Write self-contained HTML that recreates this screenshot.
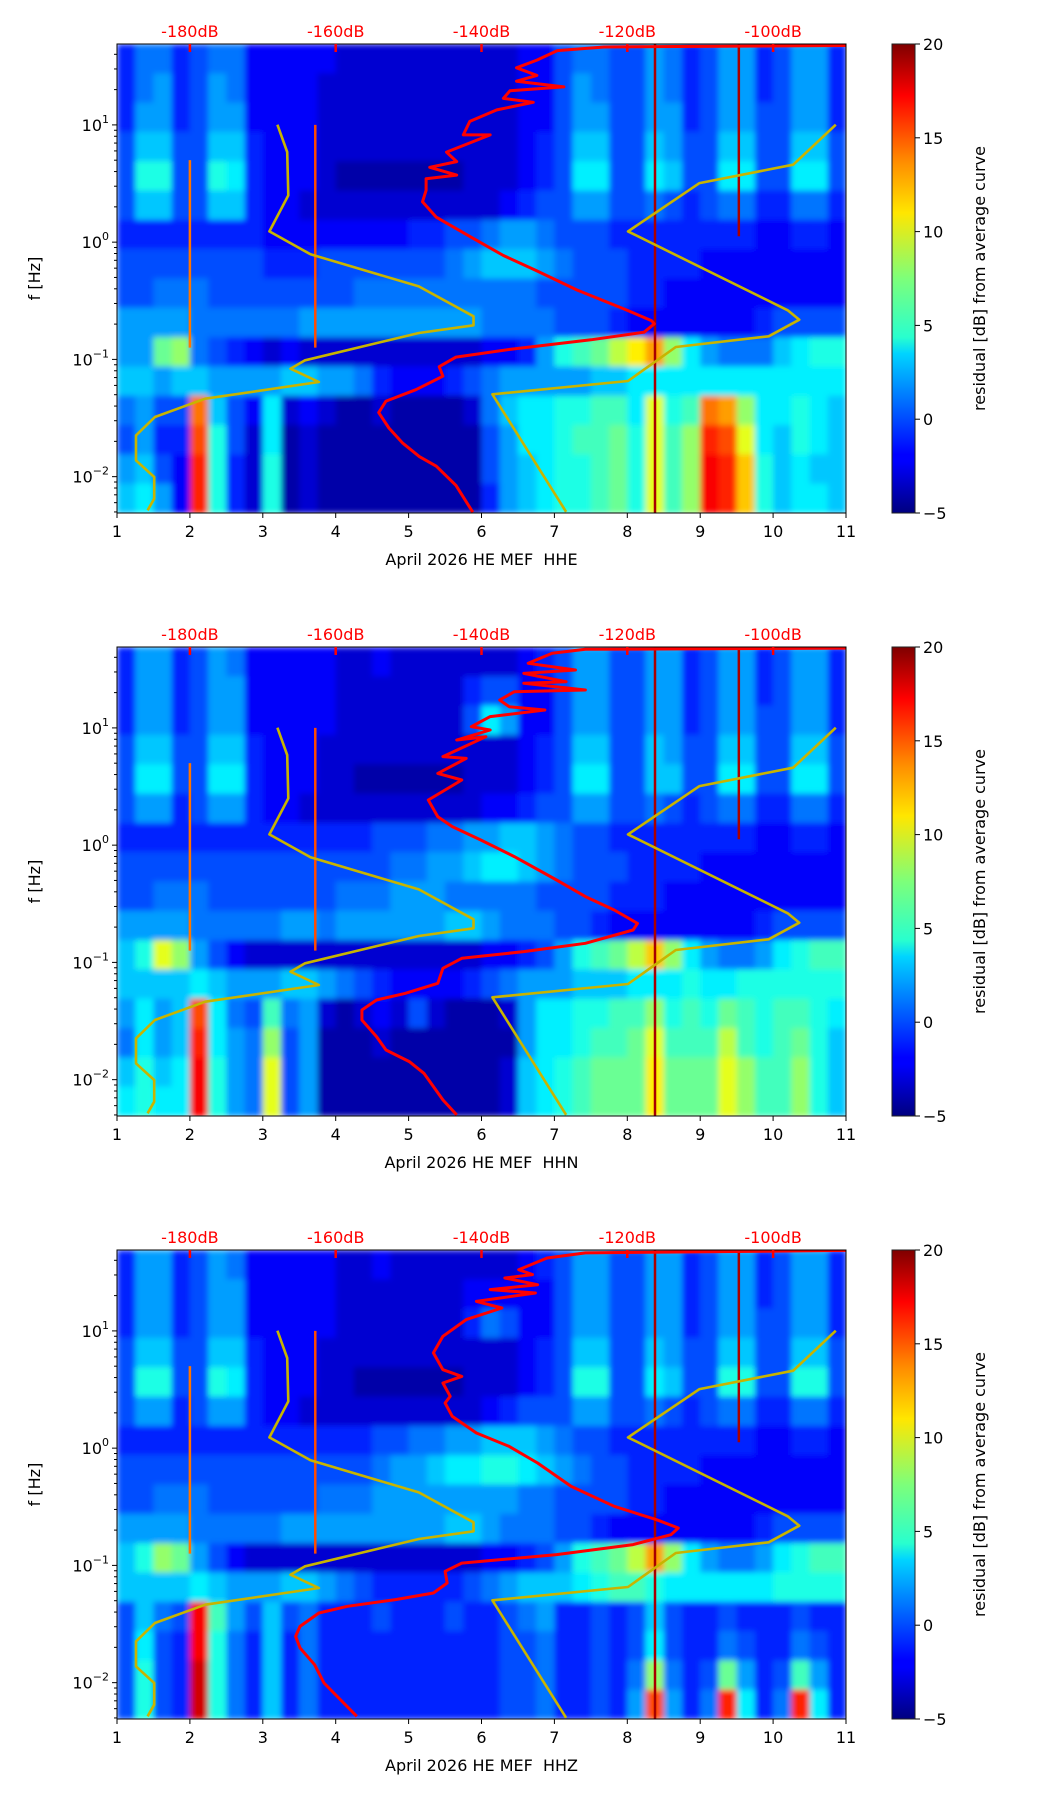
<!DOCTYPE html>
<html><head><meta charset="utf-8"><style>
html,body{margin:0;padding:0;background:#fff;}
svg{display:block;font-family:"DejaVu Sans","Liberation Sans",sans-serif;}
text{white-space:pre;}
</style></head><body>
<svg id="fig" width="1052" height="1806" viewBox="0 0 1052 1806" xmlns="http://www.w3.org/2000/svg">
<defs>
<filter id="blur" x="0" y="0" width="1" height="1"><feGaussianBlur stdDeviation="3 3" edgeMode="duplicate"/></filter>
<linearGradient id="jet" x1="0" y1="1" x2="0" y2="0">
<stop offset="0" stop-color="#00007f"/><stop offset="0.11" stop-color="#0000ff"/><stop offset="0.125" stop-color="#0000ff"/>
<stop offset="0.34" stop-color="#00d4ff"/><stop offset="0.375" stop-color="#29ffce"/><stop offset="0.5" stop-color="#7dff7a"/>
<stop offset="0.64" stop-color="#ffe600"/><stop offset="0.75" stop-color="#ff8c00"/><stop offset="0.89" stop-color="#ff0000"/>
<stop offset="1" stop-color="#7f0000"/></linearGradient>
</defs>
</svg>
<script>
// ---- shared axis data ----
const dayTicks = [1,2,3,4,5,6,7,8,9,10,11];
const dbTicks = [-180,-160,-140,-120,-100];
const decadeTicks = [1,0,-1,-2];
const cbarTicks = [-5,0,5,10,15,20];
const channels = ["HHE","HHN","HHZ"];
// Peterson noise models (dB, log10 f)
const nlnmDb = [-168.0,-166.65,-166.5,-169.1,-163.45,-148.6,-141.1,-141.1,-148.6,-164.2,-166.2,-162.3,-177.9,-184.8,-187.4,-187.4,-184.9,-184.9,-185.8];
const nlnmF = [1.002,0.769,0.399,0.092,-0.104,-0.377,-0.632,-0.709,-0.775,-1.008,-1.079,-1.193,-1.335,-1.491,-1.648,-1.861,-2.003,-2.188,-2.287];
const nhnmDb = [-91.4,-97.24,-110.1,-119.9,-98.0,-96.4,-100.6,-113.35,-119.9,-138.5,-128.4];
const nhnmF = [1.002,0.661,0.504,0.092,-0.581,-0.661,-0.803,-0.894,-1.184,-1.298,-2.30];
// average curves
const avgDbE = [-90,-123.2,-129.6,-132.4,-135.2,-132.4,-135.2,-128.7,-136.1,-137.0,-132.9,-137.9,-141.6,-142.5,-138.8,-144.8,-143.4,-147.1,-143.4,-147.6,-147.6,-148.1,-146.2,-141.6,-137.0,-132.4,-126.9,-120.4,-116.7,-116.3,-117.7,-125.0,-136.1,-143.5,-145.8,-145.3,-149.0,-153.1,-154.1,-152.7,-150.8,-148.5,-146.2,-143.5,-141.2];
const avgFE = [1.677,1.664,1.634,1.553,1.487,1.422,1.373,1.324,1.291,1.226,1.193,1.128,1.030,0.915,0.915,0.768,0.687,0.638,0.572,0.540,0.442,0.344,0.213,0.049,-0.114,-0.245,-0.408,-0.571,-0.669,-0.696,-0.768,-0.833,-0.915,-0.980,-1.062,-1.143,-1.258,-1.356,-1.454,-1.585,-1.715,-1.830,-1.911,-2.075,-2.303];
const avgDbN = [-90.0,-125.75,-130.3,-133.6,-127.1,-134.2,-128.4,-134.2,-125.75,-135.5,-137.5,-136.2,-131.3,-138.8,-141.4,-138.8,-143.4,-139.4,-145.3,-142.1,-146.0,-142.7,-147.3,-146.0,-144.0,-140.1,-135.5,-129.7,-125.75,-121.8,-118.6,-119.2,-125.75,-134.2,-142.7,-145.3,-146.0,-150.5,-154.4,-156.4,-156.4,-154.4,-153.1,-149.9,-147.9,-145.3,-143.4];
const avgFN = [1.681,1.670,1.636,1.551,1.494,1.465,1.394,1.380,1.323,1.309,1.238,1.181,1.153,1.096,1.010,0.982,0.897,0.925,0.755,0.740,0.612,0.556,0.385,0.243,0.158,0.044,-0.098,-0.297,-0.439,-0.553,-0.667,-0.724,-0.837,-0.908,-0.965,-1.050,-1.178,-1.264,-1.321,-1.406,-1.491,-1.633,-1.747,-1.846,-1.946,-2.173,-2.301];
const avgDbZ = [-90.0,-125.75,-131.0,-134.9,-133.0,-136.8,-132.3,-138.8,-132.6,-140.7,-137.2,-142.1,-145.3,-146.6,-145.3,-142.7,-145.3,-144.3,-145.0,-144.0,-140.7,-136.2,-132.3,-127.7,-121.8,-116.0,-113.0,-114.0,-119.2,-129.7,-142.7,-145.0,-144.7,-146.6,-151.8,-158.4,-162.3,-164.9,-165.5,-164.9,-162.9,-161.6,-157.1];
const avgFZ = [1.687,1.665,1.622,1.522,1.480,1.451,1.394,1.352,1.323,1.252,1.195,1.096,0.954,0.812,0.669,0.612,0.556,0.442,0.385,0.271,0.129,0.015,-0.127,-0.326,-0.496,-0.610,-0.681,-0.738,-0.823,-0.908,-0.980,-1.050,-1.150,-1.235,-1.292,-1.349,-1.406,-1.520,-1.605,-1.704,-1.847,-2.003,-2.287];
// residual grids: 16 frequency rows (top->bottom, 0.25 decade) x 40 quarter-day columns
const heatE = [
[-1,1,1,-1,0,1,1,-2,-2,-2,-2,-2,-3,-3,-3,-3,-3,-3,-3,-3,-3,-3,-2,-2,0,1,1,0,0,2,1,-1,0,2,2,-1,0,2,2,-1],
[-1,1,2,-1,0,2,1,-2,-2,-2,-2,-3,-3,-3,-3,-3,-3,-3,-3,-3,-3,-3,-2,-2,0,2,1,0,0,2,1,-1,0,2,2,-1,0,2,2,-1],
[-1,2,2,-1,0,2,2,-2,-2,-2,-2,-3,-3,-3,-3,-3,-3,-3,-3,-3,-3,-3,-2,-2,0,2,2,0,0,2,2,-1,0,2,2,0,0,2,2,-1],
[0,3,3,0,0,3,3,-1,-2,-2,-2,-3,-3,-3,-3,-3,-3,-3,-3,-3,-3,-3,-2,-1,0,3,3,0,0,3,2,0,0,3,3,0,0,3,3,0],
[0,5,5,0,0,5,4,-1,-2,-2,-2,-3,-4,-4,-4,-4,-4,-4,-4,-3,-3,-3,-2,-1,0,4,4,0,0,4,3,0,0,4,4,0,0,4,4,0],
[0,3,3,0,0,3,3,-1,-2,-2,-3,-3,-3,-3,-3,-3,-3,-3,-3,-3,-3,-2,-1,0,0,2,2,0,0,1,0,-1,0,1,1,-1,-1,1,1,-1],
[-1,-1,-1,-1,-1,-1,-1,-1,-2,-2,-2,-2,-2,-2,-2,-2,-1,-1,0,0,1,2,2,1,0,0,0,-1,-1,-1,-1,-1,-1,-1,-1,-2,-2,-1,-1,-2],
[0,0,0,0,0,0,0,0,-1,-1,-1,0,0,0,0,0,0,0,1,2,3,3,3,2,1,0,0,0,-1,-1,-1,-1,-2,-2,-2,-2,-2,-2,-2,-2],
[0,0,1,1,1,0,0,0,0,0,0,0,0,1,1,1,1,1,1,1,1,1,1,0,0,0,0,0,-1,-1,-2,-2,-2,-2,-2,-2,-2,-2,-2,-2],
[2,2,2,2,1,1,1,1,1,1,2,2,2,2,2,2,2,2,2,2,1,1,1,1,0,0,0,-1,-2,-2,-2,-2,-2,-2,-2,-1,0,0,0,0],
[2,2,7,8,1,0,-1,-2,-3,-2,-3,-3,-3,-3,-3,-3,-3,-3,-3,-3,-2,-2,-1,2,5,6,7,9,11,13,8,4,2,1,1,1,3,4,5,5],
[3,3,2,3,3,2,2,2,2,3,3,2,2,1,-1,-2,-2,-2,-1,0,1,2,2,2,2,2,3,3,4,4,4,4,4,4,4,4,4,4,4,4],
[1,2,0,0,14,3,0,-2,4,-3,-2,-3,-4,-4,-3,-4,-4,-4,-4,-3,1,3,4,4,5,5,6,6,4,10,5,6,14,13,8,4,4,5,4,3],
[0,2,-1,-1,15,5,0,-3,4,-4,-3,-4,-4,-4,-4,-4,-4,-4,-4,-4,0,2,4,4,5,6,6,7,5,10,6,8,16,15,10,4,3,5,4,3],
[2,3,0,-2,16,5,-1,-3,5,-4,-3,-4,-4,-4,-4,-4,-4,-4,-4,-4,0,2,3,4,5,5,6,7,5,10,6,8,17,16,12,5,3,4,3,3],
[3,4,2,-2,16,5,-1,-3,5,-4,-3,-4,-4,-4,-4,-4,-4,-4,-4,-4,-1,2,3,4,5,5,6,7,5,10,6,8,17,16,12,5,3,4,4,3]];
const heatN = [
[-1,2,2,-1,0,2,1,-2,-2,-2,-2,-2,-3,-3,-2,-3,-3,-3,-3,-3,-3,-3,-2,-1,0,2,2,0,0,2,2,-1,0,2,2,-1,0,2,2,-1],
[-1,2,2,-1,0,2,2,-2,-2,-2,-2,-2,-3,-3,-3,-3,-3,-3,-3,-1,0,0,-2,-2,0,2,2,0,0,2,2,-1,0,2,2,-1,0,2,2,-1],
[-1,2,2,-1,0,2,2,-2,-2,-2,-2,-2,-3,-3,-3,-3,-3,-3,-3,0,4,2,-2,-2,0,2,2,0,0,2,2,-1,0,2,2,0,0,2,2,-1],
[0,3,3,0,0,3,3,-1,-2,-2,-2,-3,-3,-3,-3,-3,-3,-3,-3,-3,-3,-3,-2,-1,0,3,3,0,0,3,2,0,0,3,3,0,0,3,3,0],
[0,4,4,0,0,4,4,-1,-2,-2,-2,-3,-3,-4,-4,-4,-4,-4,-4,-3,-3,-3,-2,-1,0,4,4,0,0,3,3,0,0,4,4,0,0,4,4,0],
[0,2,2,-1,0,2,2,-1,-2,-2,-3,-3,-3,-3,-3,-3,-3,-3,-3,-3,-2,-2,-1,0,0,2,2,0,0,1,0,-1,0,1,1,-1,-1,1,1,-1],
[-1,-1,-1,-1,-1,-1,-1,-1,-1,-1,-1,-1,-1,-1,0,0,0,1,1,2,2,3,3,2,1,0,0,-1,-1,-1,-1,-1,-1,-1,-1,-2,-2,-1,-1,-2],
[0,0,0,0,0,0,0,0,0,0,0,0,0,0,0,1,1,2,2,3,4,4,3,2,1,0,0,0,-1,-1,-1,-1,-2,-2,-2,-2,-2,-2,-2,-2],
[0,0,1,1,1,0,0,0,0,0,0,0,1,1,1,2,2,2,1,1,1,1,1,0,0,0,0,-1,-1,-1,-2,-2,-2,-2,-2,-2,-2,-2,-2,-2],
[2,2,2,2,1,1,1,1,1,2,2,1,2,2,2,2,2,2,3,3,2,1,1,1,0,0,-1,-2,-2,-2,-2,-2,-2,-2,-2,-1,0,0,0,0],
[3,5,10,8,2,0,-2,-3,-3,-3,-3,-3,-3,-3,-3,-3,-3,-3,-3,-3,-2,-2,-1,0,2,5,6,7,9,12,8,4,2,1,1,2,4,5,6,6],
[3,3,3,3,4,3,2,2,2,3,3,2,1,0,-1,-2,-2,-2,-2,-1,0,1,2,2,2,3,3,3,4,4,4,5,4,4,5,5,5,5,5,5],
[2,4,2,3,15,4,1,0,6,1,2,-3,-4,-3,-2,-3,0,-3,-4,-4,-4,-3,2,4,4,5,5,6,6,8,5,6,5,7,6,5,6,6,5,4],
[1,4,2,3,16,4,2,1,8,0,2,-4,-4,-4,-3,-4,-4,-4,-4,-4,-4,-4,2,4,4,5,6,6,7,10,6,6,6,9,6,5,6,7,5,3],
[3,5,3,4,17,5,2,1,10,0,2,-4,-4,-4,-4,-4,-4,-4,-4,-4,-4,-3,3,4,5,6,7,7,7,11,7,7,7,10,8,6,6,8,5,3],
[4,5,4,4,17,5,2,1,10,0,2,-4,-4,-4,-4,-4,-4,-4,-4,-4,-4,-3,3,4,5,6,7,7,7,11,7,7,7,10,8,6,6,8,5,3]];
const heatZ = [
[-1,2,2,-1,0,2,1,-2,-2,-2,-2,-2,-3,-3,-2,-3,-3,-3,-3,-3,-3,-3,-2,-1,0,2,2,0,0,2,2,-1,0,2,2,-1,0,2,2,-1],
[-1,2,2,-1,0,2,2,-2,-2,-2,-2,-2,-3,-3,-3,-3,-3,-3,-3,-2,-2,-2,-2,-2,0,2,2,0,0,2,2,-1,0,2,2,-1,0,2,2,-1],
[-1,2,2,-1,0,2,2,-2,-2,-2,-2,-2,-3,-3,-3,-3,-3,-3,-3,-1,1,0,-2,-2,0,2,2,0,0,2,2,-1,0,2,2,0,0,2,2,-1],
[0,3,3,0,0,3,3,-1,-2,-2,-2,-3,-3,-3,-3,-3,-3,-3,-3,-3,-3,-3,-2,-1,0,3,3,0,0,3,2,0,0,3,3,0,0,3,3,0],
[0,5,5,0,0,5,4,-1,-2,-2,-2,-3,-3,-4,-4,-4,-4,-4,-4,-3,-3,-3,-2,-1,0,5,5,0,0,4,3,0,0,5,5,0,0,5,5,0],
[0,2,2,-1,0,2,2,-1,-2,-2,-3,-3,-3,-3,-3,-3,-3,-3,-3,-3,-2,-1,0,0,0,2,2,0,0,1,0,-1,0,1,1,-1,-1,1,1,-1],
[-1,-1,-1,-1,-1,-1,-1,-1,-1,-1,-1,-1,-1,-1,0,0,1,1,2,2,3,3,3,2,1,0,0,-1,-1,-1,-1,-1,-1,-1,-1,-2,-2,-1,-1,-2],
[0,0,0,0,0,0,0,0,0,0,0,0,0,0,1,2,2,3,4,4,5,5,4,3,2,1,0,0,-1,-1,-1,-1,-2,-2,-2,-2,-2,-2,-2,-2],
[0,0,1,1,1,0,0,0,0,0,0,1,1,1,2,2,2,2,2,2,2,2,1,1,0,0,0,0,-1,-1,-2,-2,-2,-2,-2,-2,-2,-2,-2,-2],
[2,2,2,2,1,1,1,1,1,2,2,2,2,2,2,2,2,2,3,3,2,1,1,1,0,0,-1,-2,-2,-2,-2,-2,-2,-2,-2,-1,0,0,0,0],
[3,5,8,7,2,0,-2,-3,-3,-3,-3,-3,-3,-3,-3,-3,-3,-3,-3,-3,-2,-2,-1,0,2,5,6,7,9,13,8,4,2,1,1,2,4,5,6,6],
[3,3,3,3,4,3,2,2,2,3,3,2,1,0,-1,-1,-1,-1,-1,0,1,2,3,3,3,4,5,6,6,5,4,4,4,4,4,4,5,5,5,5],
[0,3,1,0,17,6,2,0,3,0,1,-1,-1,-1,0,-1,-1,-1,0,-1,-1,0,1,2,-1,-1,0,-1,0,3,0,-1,-1,0,-1,-1,-1,0,-1,-1],
[0,4,0,-1,17,5,1,-1,3,-1,1,-1,-1,-1,-1,-1,-1,-1,-1,-1,-1,0,0,1,-1,-1,0,-1,0,4,0,-1,-1,1,0,-1,-1,1,0,-1],
[0,5,0,-1,18,5,1,-1,3,-1,1,-1,-1,-1,-1,-1,-1,-1,-1,-1,-1,0,0,1,-1,-1,0,-1,1,8,1,-1,0,7,2,-1,0,6,2,-1],
[0,5,0,-1,18,5,1,-1,3,-1,1,-1,-1,-1,-1,-1,-1,-1,-1,-1,-1,0,0,1,-1,-1,0,-1,2,15,2,-1,1,16,4,-1,1,16,4,-1]];
// narrow persistent spectral lines (day, top log f, bottom log f, residual)
const lineDays = [2.0, 3.72, 8.38, 9.53];
const lineTopF = [0.7, 1.0, 1.69, 1.69];
const lineBotF = [-0.9, -0.9, -2.31, 0.05];
const lineVals = [14, 15, 19, 19];

const NS = "http://www.w3.org/2000/svg";
const svg = document.getElementById("fig");
const X0 = 117, X1 = 846, PH = 469, FTOP = 1.69, FBOT = -2.31;
const tops = [44, 647, 1250];
const heats = [heatE, heatN, heatZ];
const avgDbs = [avgDbE, avgDbN, avgDbZ];
const avgFs = [avgFE, avgFN, avgFZ];
function xDay(d){ return X0 + (d-1)/10*(X1-X0); }
function xDb(db){ return xDay((db+200)/10); }
function yF(lf, top){ return top + (FTOP-lf)/(FTOP-FBOT)*PH; }
function yC(v, top){ return top + (20-v)/25*PH; }
function jet(v){ let t=Math.max(0,Math.min(1,(v+5)/25));
  const c=(a)=>Math.round(255*Math.max(0,Math.min(1,1.5-Math.abs(4*t-a))));
  return `rgb(${c(3)},${c(2)},${c(1)})`; }
function mk(tag, attrs, parent){ const e=document.createElementNS(NS,tag); for(const k in attrs) e.setAttribute(k,attrs[k]); (parent||svg).appendChild(e); return e; }

tops.forEach((top, p) => {
  const g = mk("g", {});
  
  
  const clipId = "clip"+p;
  const cp = mk("clipPath", {id: clipId}, g); mk("rect", {x:X0,y:top,width:X1-X0,height:PH}, cp);
  const hg = mk("g", {filter:"url(#blur)"}, g);
  
  
  const grid = heats[p];
  const nr = grid.length, nc = grid[0].length;
  for (let r=0;r<nr;r++) for (let c=0;c<nc;c++){
    const d0 = 1 + c*10/nc, d1 = 1 + (c+1)*10/nc;
    const f0 = FTOP - r*(FTOP-FBOT)/nr, f1 = FTOP - (r+1)*(FTOP-FBOT)/nr;
    const rc = mk("rect", {x:xDay(d0), y:yF(f0,top), width:xDay(d1)-xDay(d0)+0.5, height:yF(f1,top)-yF(f0,top)+0.5, fill:jet(grid[r][c])}, hg);
    
    
  }
  const lg = mk("g", {"clip-path":`url(#${clipId})`}, g);
  lineDays.forEach((d,i)=>{
    const ln = mk("line", {x1:xDay(d), x2:xDay(d), y1:yF(lineTopF[i],top), y2:yF(lineBotF[i],top), stroke:jet(lineVals[i]), "stroke-width":2.5}, lg);
    
    
  });
  [[nlnmDb,nlnmF,"nlnm-curve"],[nhnmDb,nhnmF,"nhnm-curve"]].forEach(([dbs,fs,nm])=>{
    const pts = dbs.map((v,i)=>xDb(v).toFixed(1)+","+yF(fs[i],top).toFixed(1)).join(" ");
    const pl = mk("polyline", {points:pts, fill:"none", stroke:"#c8b400", "stroke-width":2.6, "stroke-linejoin":"round"}, lg);
    
    
  });
  const apts = avgDbs[p].map((v,i)=>xDb(v).toFixed(1)+","+yF(avgFs[p][i],top).toFixed(1)).join(" ");
  const ap = mk("polyline", {points:apts, fill:"none", stroke:"#ff0000", "stroke-width":3, "stroke-linejoin":"round"}, lg);
  
  
  const fr = mk("rect", {x:X0,y:top,width:X1-X0,height:PH,fill:"none",stroke:"#000","stroke-width":1}, g);
  
  
  dayTicks.forEach(d=>{
    mk("line",{x1:xDay(d),x2:xDay(d),y1:top+PH,y2:top+PH+5,stroke:"#000","stroke-width":1},g);
    const t = mk("text",{x:xDay(d),y:top+PH+24,"text-anchor":"middle","font-size":16},g);
    t.textContent = d;
    
    
  });
  const xl = mk("text",{x:(X0+X1)/2,y:top+PH+52,"text-anchor":"middle","font-size":16},g);
  xl.textContent = "April 2026 HE MEF  " + channels[p];
  
  
  dbTicks.forEach(db=>{
    mk("line",{x1:xDb(db),x2:xDb(db),y1:top,y2:top+8,stroke:"#ff0000","stroke-width":2.5},g);
    const t = mk("text",{x:xDb(db),y:top-7,"text-anchor":"middle","font-size":16,fill:"#ff0000"},g);
    t.textContent = db + "dB";
    
    
  });
  for (let e=-3;e<=1;e++) for (let m=1;m<=9;m++){
    const lf = e + Math.log10(m);
    if (lf<FBOT || lf>FTOP) continue;
    const y = yF(lf,top);
    mk("line",{x1:X0-(m===1?5:3),x2:X0,y1:y,y2:y,stroke:"#000","stroke-width":1},g);
  }
  decadeTicks.forEach(e=>{
    const t = mk("text",{x:X0-8,y:yF(e,top)+6,"text-anchor":"end","font-size":16},g);
    const b = mk("tspan",{},t); b.textContent = "10";
    const s = mk("tspan",{dy:-8,"font-size":11},t); s.textContent = e===1?"1":(e===0?"0":"\u2212"+(-e));
    
    
  });
  const yl = mk("text",{x:0,y:0,"text-anchor":"middle","font-size":16,transform:`translate(40,${top+PH/2}) rotate(-90)`},g);
  yl.textContent = "f [Hz]";
  
  
  const cb = mk("rect",{x:892,y:top,width:23,height:PH,fill:"url(#jet)",stroke:"#222","stroke-width":1},g);
  
  
  cbarTicks.forEach(v=>{
    const y=yC(v,top);
    mk("line",{x1:915,x2:920,y1:y,y2:y,stroke:"#000","stroke-width":1},g);
    const t = mk("text",{x:923,y:y+6,"font-size":16},g);
    t.textContent = v<0 ? "\u2212"+(-v) : v;
    
    
  });
  const cl = mk("text",{x:0,y:0,"text-anchor":"middle","font-size":16,transform:`translate(985,${top+PH/2}) rotate(-90)`},g);
  cl.textContent = "residual [dB] from average curve";
  
  
});
</script>
</body></html>
